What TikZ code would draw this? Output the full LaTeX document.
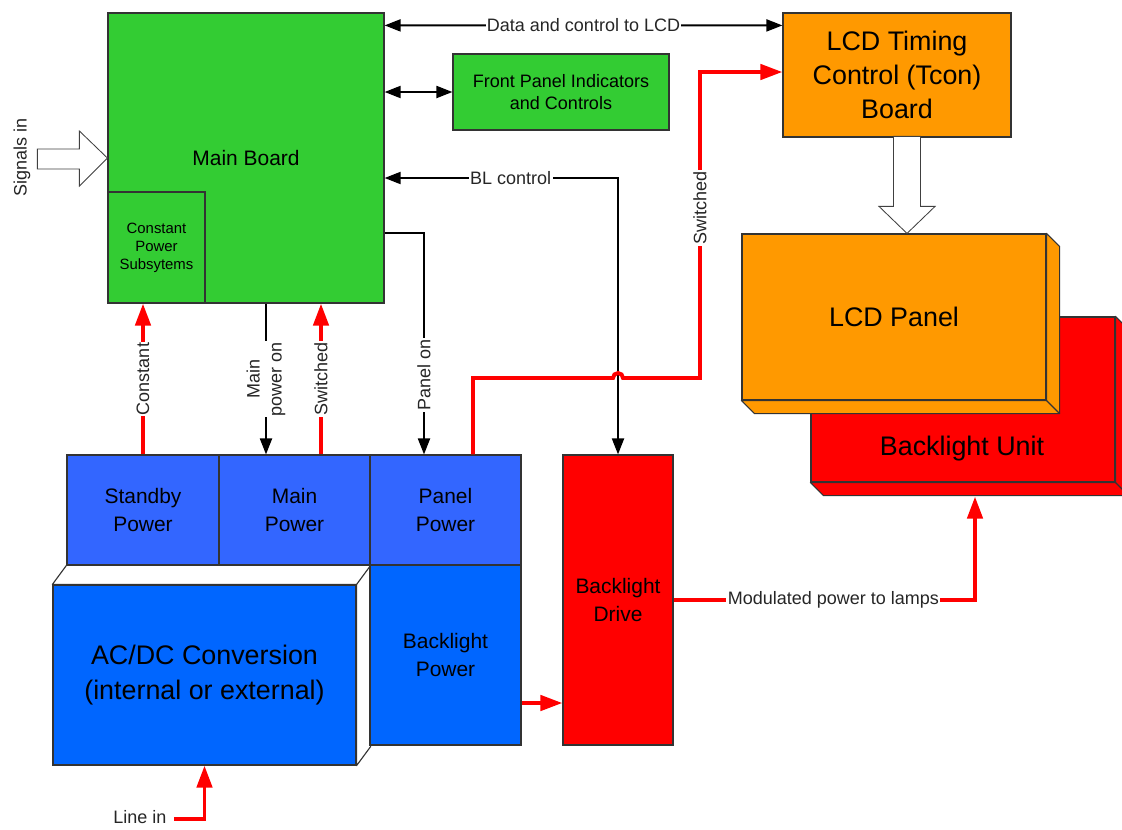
\documentclass[tikz,border=0pt]{standalone}
\usepackage{fontspec}
\setmainfont{Liberation Sans}
\usetikzlibrary{arrows.meta, calc}
\definecolor{boardgreen}{HTML}{33CC33}
\definecolor{pwblue}{HTML}{3366FF}
\definecolor{acblue}{HTML}{0066FF}
\definecolor{lcdorange}{HTML}{FF9900}
\definecolor{blred}{HTML}{FF0000}
\newcommand{\lblfont}{\fontsize{12.8}{15.6}\selectfont}
\newcommand{\boxfont}{\fontsize{14.9}{19.5}\selectfont}
\newcommand{\bigfont}{\fontsize{19.1}{24}\selectfont}
\newcommand{\tinyfont}{\fontsize{10.6}{12.8}\selectfont}
\tikzset{
  box/.style={rectangle, draw=black!80, line width=0.8pt, align=center, font=\boxfont, inner sep=2pt},
  greenbox/.style={box, fill=boardgreen},
  pwbox/.style={box, fill=pwblue, minimum height=2.75cm},
  acbox/.style={box, fill=acblue},
  orangebox/.style={box, fill=lcdorange, font=\bigfont},
  redbox/.style={box, fill=blred},
  face/.style={draw=black!80, line width=0.8pt, line join=round},
  arrow/.style={-{Triangle[length=0.4cm, width=0.3cm]}, line width=1.4pt, black},
  dblarrow/.style={{Triangle[length=0.4cm, width=0.3cm]}-{Triangle[length=0.4cm, width=0.3cm]}, line width=1.4pt, black},
  redarrow/.style={-{Triangle[length=0.55cm, width=0.38cm]}, line width=2.8pt, blred},
  hollow/.style={draw=black!75, line width=0.6pt, fill=white},
  lbl/.style={font=\lblfont, fill=white, inner sep=1pt, text=black!85},
  vlbl/.style={lbl, rotate=90, align=center},
}

\begin{document}
\begin{tikzpicture}[x=0.025cm, y=-0.025cm]
\useasboundingbox (0,0) rectangle (1122,829);

% main board and its power subsystem
\node[greenbox, minimum width=6.9cm, minimum height=7.25cm] (main) at (246,158) {Main Board};
\node[greenbox, font=\tinyfont, minimum width=2.425cm, minimum height=2.775cm] (cps) at (156.5,247.5) {Constant\\Power\\Subsytems};
\node[greenbox, font=\lblfont, minimum width=5.4cm, minimum height=1.9cm] (front) at (561,92) {Front Panel Indicators\\and Controls};

% LCD side
\node[orangebox, minimum width=5.7cm, minimum height=3.1cm] (tcon) at (897,75) {LCD Timing\\Control (Tcon)\\Board};
\node[redbox, minimum width=7.6cm, minimum height=4.125cm] (blu) at (963,399.5) {};
\draw[face, fill=blred] (blu.north east) -- ++(13,13) -- ($(blu.south east)+(13,13)$) -- ($(blu.south west)+(13,13)$) -- (blu.south west) -- (blu.south east) -- cycle;
\draw[face] (blu.south east) -- ++(13,13);
\node[font=\bigfont] (blulbl) at ($(blu.south)+(-1,-34)$) {Backlight Unit};
\node[orangebox, minimum width=7.6cm, minimum height=4.15cm] (lcd) at (894,317) {LCD Panel};
\draw[face, fill=lcdorange] (lcd.north east) -- ++(13,13) -- ($(lcd.south east)+(13,13)$) -- ($(lcd.south west)+(13,13)$) -- (lcd.south west) -- (lcd.south east) -- cycle;
\draw[face] (lcd.south east) -- ++(13,13);

% power supply
\node[acbox, font=\fontsize{19.1}{25}\selectfont, minimum width=7.575cm, minimum height=4.5cm] (acdc) at (204.5,675) {AC/DC Conversion\\(internal or external)};
\draw[face, fill=white] (acdc.north west) -- ++(14,-19) -- ($(acdc.north east)+(14,-19)$) -- ($(acdc.south east)+(14,-19)$) -- (acdc.south east) -- (acdc.north east) -- cycle;
\draw[face] (acdc.north east) -- ++(14,-19);
\node[pwbox, minimum width=3.8cm] (standby) at (143,510) {Standby\\Power};
\node[pwbox, minimum width=3.775cm] (mainpw) at (294.5,510) {Main\\Power};
\node[pwbox, minimum width=3.775cm] (panelpw) at (445.5,510) {Panel\\Power};
\node[acbox, minimum width=3.775cm, minimum height=4.5cm] (blpw) at (445.5,655) {Backlight\\Power};
\node[redbox, minimum width=2.75cm, minimum height=7.25cm] (bldrive) at (618,600) {Backlight\\Drive};

% hollow arrows
\node[lbl, rotate=90] (sigin) at (22,157) {Signals in};
\draw[hollow] (main.west) -- ++(-28,-27) -- ++(0,18) -- ++(-42,0) -- ++(0,20) -- ++(42,0) -- ++(0,17) -- cycle;
\coordinate (lcdin) at ($(lcd.north)+(13,0)$);
\draw[hollow] (lcdin) -- ++(-28,-27) -- ++(14.5,0) -- ++(0,-70) -- ++(27,0) -- ++(0,70) -- ++(14.5,0) -- cycle;

% signal connectors
\draw[dblarrow] ($(main.north east)+(0,13)$) -- node[lbl]{Data and control to LCD} ($(tcon.north west)+(0,13)$);
\draw[dblarrow] (main.east |- front.west) -- (front.west);
\coordinate (blc) at ($(main.east)+(0,20)$);
\draw[dblarrow] (blc) -- node[lbl, pos=0.54]{BL control} (blc -| bldrive.north) -- (bldrive.north);
\coordinate (ponstart) at ($(main.east)+(0,75)$);
\coordinate (pon) at ($(panelpw.north)+(-21.5,0)$);
\draw[arrow] (ponstart) -- (ponstart -| pon) -- node[vlbl, pos=0.64]{Panel on} (pon);
\coordinate (mpon) at ($(mainpw.north)+(-28.5,0)$);
\draw[arrow] (mpon |- main.south) -- node[vlbl]{Main\\power on} (mpon);

% power connectors
\draw[redarrow] (standby.north) -- node[vlbl]{Constant} (standby.north |- cps.south);
\coordinate (msw) at ($(mainpw.north)+(26.5,0)$);
\draw[redarrow] (msw) -- node[vlbl]{Switched} (msw |- main.south);
\coordinate (swy) at (0,378);
\coordinate (swx) at (700,0);
\coordinate (tconin) at ($(tcon.west)+(0,-3)$);
\draw[redarrow] ($(panelpw.north)+(27.5,0)$) |- ($(bldrive.north |- swy)+(-5,0)$) arc[start angle=180, end angle=0, radius=0.125cm] -- (swx |- swy) -- node[vlbl, pos=0.555]{Switched} (swx |- tconin) -- (tconin);
\coordinate (blp) at ($(blpw.east)+(0,48)$);
\draw[redarrow] (blp) -- (blp -| bldrive.west);
\coordinate (blubot) at ($(blu.south)+(12,14)$);
\draw[redarrow] (bldrive.east) -- node[lbl, pos=0.53]{Modulated power to lamps} (bldrive.east -| blubot) -- (blubot);
\node[lbl] (linein) at (140,817) {Line in};
\draw[redarrow] ($(linein.east)+(6,2)$) -| (acdc.south);
\end{tikzpicture}
\end{document}
